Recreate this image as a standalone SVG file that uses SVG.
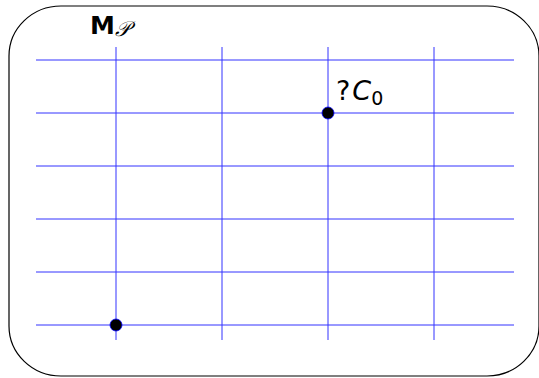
<svg xmlns="http://www.w3.org/2000/svg" width="539" height="378" viewBox="0 0 539 378">
<style>
.g{stroke:#3333ff;stroke-width:1;fill:none}
.dot{fill:#000;stroke:#0000ff;stroke-width:0.8}
.t{font-family:"DejaVu Sans","Liberation Sans",sans-serif;fill:#000}
</style>
<rect x="9" y="6" width="530" height="370" rx="52" ry="50" fill="none" stroke="#000" stroke-width="1.2"/>
<g id="grid">
<path class="g" d="M36 60H514M36 113H514M36 166H514M36 219H514M36 272H514M36 325H514"/>
<path class="g" d="M116 47V340M222 47V340M328 47V340M434 47V340"/>
</g>
<g id="label-M">
<text class="t" x="90" y="34" font-size="25" font-weight="bold">M<tspan font-family="'DejaVu Serif',serif" font-style="italic" font-weight="normal" font-size="21" dy="2">𝒫</tspan></text>
</g>
<g id="node-p0">
<circle class="dot" cx="116" cy="325" r="6"/>
</g>
<g id="node-c0">
<circle class="dot" cx="328" cy="113" r="6"/>
<text class="t" x="336" y="100" font-size="27">?<tspan font-style="italic" dx="2">C</tspan><tspan font-size="19" dy="5">0</tspan></text>
</g>
</svg>
